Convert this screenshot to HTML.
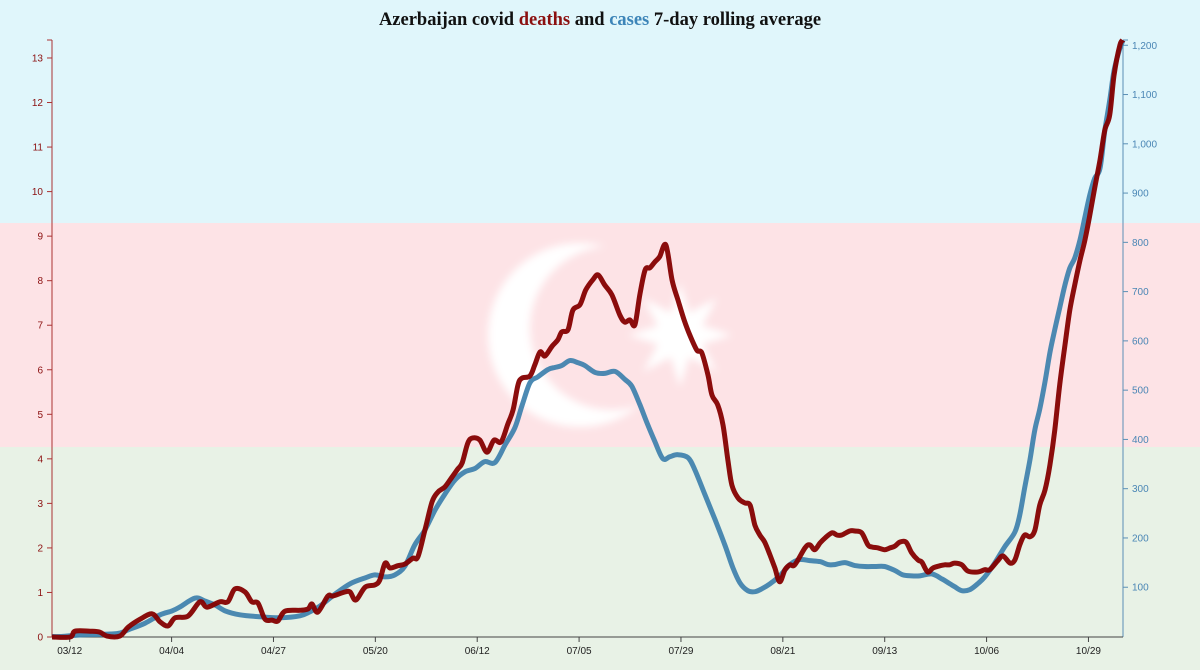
<!DOCTYPE html>
<html><head><meta charset="utf-8"><style>
html,body{margin:0;padding:0;width:1200px;height:670px;overflow:hidden;background:#e8f2e6}
svg{display:block}
text{font-family:"Liberation Sans",sans-serif}
</style></head><body>
<svg id="chart" width="1200" height="670" xmlns="http://www.w3.org/2000/svg">
<defs>
<filter id="blur" x="-20%" y="-20%" width="140%" height="140%"><feGaussianBlur stdDeviation="4"/></filter>
<mask id="cres"><rect width="1200" height="670" fill="black"/><circle cx="580" cy="335" r="92" fill="white"/><circle cx="612" cy="328" r="82" fill="black"/></mask>
</defs>
<g>
<rect x="0" y="0" width="1200" height="223" fill="#e0f6fb"/>
<rect x="0" y="223" width="1200" height="224" fill="#fde3e6"/>
<rect x="0" y="447" width="1200" height="223" fill="#e8f2e6"/>
<g filter="url(#blur)">
<rect width="1200" height="670" fill="#ffffff" mask="url(#cres)"/>
<polygon id="star" fill="#ffffff"/>
</g>
</g>
<text x="600" y="25" text-anchor="middle" font-weight="bold" font-size="18.5" fill="#111" style="font-family:'Liberation Serif',serif">Azerbaijan covid <tspan fill="#8b1010">deaths</tspan> and <tspan fill="#3d85b8">cases</tspan> 7-day rolling average</text>
<g id="axes"></g>
<g id="series"></g>
</svg>
<script>
const xTickDays=[4,27,50,73,96,119,142,165,188,211,234];
const xTickLabels=["03/12","04/04","04/27","05/20","06/12","07/05","07/29","08/21","09/13","10/06","10/29"];
const leftTicks=[0,1,2,3,4,5,6,7,8,9,10,11,12,13];
const rightTicks=[100,200,300,400,500,600,700,800,900,1000,1100,1200];
const deathDays=[0,4.1,5.2,8.6,10.8,12.4,15.3,17.2,19.9,22.6,24.4,26.2,27.8,30.7,33.4,35,37.9,39.7,41.3,43.6,45.1,46.5,48.1,49.7,51,52.6,56,57.8,58.7,60,62.3,63.4,66.1,67.3,68.6,70.7,72.9,74,75.2,76.3,78.1,79.7,81.5,82.6,84.2,85.8,87.1,88.7,90.3,91.6,92.6,93.9,95,96.6,98.2,99.8,101.4,102.9,104.1,105.2,106.1,107.9,109,110.2,111.3,112.9,114.2,115.1,116.5,117.6,119.2,120.5,122.1,123.3,124.8,126.4,128.2,129.3,130.5,131.6,132.7,133.9,135,136.1,137.2,138.6,140,141.3,142.7,144,145.6,146.7,148.1,149,150.3,151.5,152.6,153.5,154.9,156.4,157.6,158.7,159.8,160.9,162.1,163.2,164.3,165.5,166.6,167.7,170,171.1,172.2,173.4,174.5,176.1,177.2,178.3,180.1,181.3,182.8,184.2,185.1,186.5,188,189.2,190.3,191.4,192.8,194.1,195.5,196.4,197.7,198.9,200.5,201.6,202.7,203.8,205.4,206.8,209,210.6,211.7,213.5,214.7,216.3,217.4,218.5,219.6,220.8,221.9,223,224.2,225.3,226.4,227.5,228.7,229.8,230.9,232.1,233.2,234.3,235.4,236.6,237.7,238.8,239.8,241.1,241.8];
const deathVals=[0,0,.13,.13,.11,.02,.02,.22,.40,.52,.34,.25,.43,.47,.79,.67,.79,.79,1.08,1.01,.79,.76,.40,.38,.36,.58,.60,.63,.74,.56,.92,.92,1.01,1.01,.83,1.12,1.17,1.28,1.66,1.55,1.60,1.64,1.77,1.80,2.40,3.03,3.25,3.37,3.59,3.77,3.91,4.36,4.47,4.42,4.15,4.42,4.38,4.78,5.10,5.66,5.81,5.86,6.11,6.40,6.31,6.53,6.67,6.85,6.90,7.34,7.46,7.79,8.02,8.13,7.90,7.68,7.23,7.07,7.12,7.01,7.68,8.24,8.29,8.42,8.54,8.80,8.01,7.57,7.12,6.78,6.44,6.38,5.88,5.43,5.21,4.76,3.97,3.41,3.12,3.01,2.96,2.51,2.29,2.13,1.84,1.55,1.24,1.51,1.62,1.62,2.00,2.07,1.96,2.11,2.22,2.34,2.29,2.29,2.38,2.38,2.34,2.07,2.02,2.00,1.96,2.00,2.04,2.13,2.13,1.89,1.73,1.68,1.46,1.55,1.60,1.62,1.62,1.66,1.62,1.48,1.46,1.51,1.51,1.71,1.82,1.66,1.73,2.07,2.29,2.25,2.40,2.96,3.30,3.86,4.65,5.66,6.56,7.34,7.90,8.46,8.91,9.47,10.08,10.71,11.38,11.72,12.62,13.29,13.4];
const caseDays=[0,1.8,6.3,13.1,15.3,17.6,21,24.4,27.1,28.9,32.3,34.5,36.8,39.1,42.4,47,51.5,56,58.2,60.5,63.9,67.3,70.7,72.9,75.2,77.4,79.7,81.9,84.2,86.5,88.7,91,93.2,95.5,97.7,100,102.3,104.5,106.1,107.9,109.7,112,113.5,115.1,116.9,118.7,120.3,122.6,124.8,127.1,129.3,130.9,132.7,134.5,136.1,137.9,139.5,141.3,143.6,145.1,147.4,149.7,151.9,153.7,155.3,157.1,158.7,160.3,162.1,164.3,166.6,168.8,171.1,173.4,175.2,176.7,179,181.3,183.5,185.8,188,190.3,192.1,194.1,195.9,198.6,200.9,202.7,203.8,205.4,207.2,209,210.6,212.9,215.1,217.4,218.5,219.6,220.8,221.9,223,224.2,225.3,226.4,227.5,228.7,229.8,230.9,232.1,233.2,234.3,235.4,236.6,237.7,238.8,239.8,241.1,241.8];
const caseVals=[0,0,3,5,7,15,27,44,52,60,78,72,64,52,44,40,38,42,50,62,86,107,119,125,121,125,143,186,216,257,289,318,334,341,355,353,389,424,468,515,527,542,546,550,560,556,550,536,534,538,522,508,471,430,396,361,365,369,363,339,288,237,186,140,109,93,91,97,107,123,146,156,154,152,146,146,150,144,142,142,142,134,125,123,123,127,117,107,101,93,95,107,121,150,182,212,247,302,359,420,461,517,576,623,667,714,748,768,805,851,896,930,950,1027,1088,1149,1194,1210];

const NS="http://www.w3.org/2000/svg";
const X0=52,X1=1123,DMAX=241.8;
const x=d=>X0+(X1-X0)*d/DMAX;
const yL=v=>637-v*44.54;
const yR=v=>636.5-v*0.4927;
function mk(tag,attrs,parent){const e=document.createElementNS(NS,tag);for(const k in attrs)e.setAttribute(k,attrs[k]);parent.appendChild(e);return e;}
const axes=document.getElementById('axes');
const st=document.getElementById('star');let sp=[];
for(let i=0;i<16;i++){const a=-Math.PI/2+i*Math.PI/8,r=i%2?24:52;sp.push((680+r*Math.cos(a)).toFixed(1)+","+(335+r*Math.sin(a)).toFixed(1));}
st.setAttribute('points',sp.join(' '));
const la=mk('line',{x1:X0,y1:40,x2:X0,y2:637,stroke:'#a33',"stroke-width":1},axes);


const ra=mk('line',{x1:X1,y1:40,x2:X1,y2:637,stroke:'#5a8fb5',"stroke-width":1},axes);


const xa=mk('line',{x1:X0,y1:637,x2:X1,y2:637,stroke:'#444',"stroke-width":1},axes);


mk('line',{x1:X0-5,y1:40,x2:X0,y2:40,stroke:'#a33'},axes);
mk('line',{x1:X1,y1:40,x2:X1+5,y2:40,stroke:'#5a8fb5'},axes);
leftTicks.forEach(v=>{const y=yL(v);
mk('line',{x1:X0-5,y1:y,x2:X0,y2:y,stroke:'#a33'},axes);
const t=mk('text',{x:X0-9,y:y+3.5,"text-anchor":"end","font-size":10,fill:'#8b1010'},axes);t.textContent=v;

});
rightTicks.forEach(v=>{const y=yR(v);
mk('line',{x1:X1,y1:y,x2:X1+5,y2:y,stroke:'#5a8fb5'},axes);
const t=mk('text',{x:X1+9,y:y+3.5,"font-size":10,fill:'#4a86b5'},axes);t.textContent=v.toLocaleString('en-US');

});
xTickDays.forEach((d,i)=>{const xx=x(d);
mk('line',{x1:xx,y1:637,x2:xx,y2:642,stroke:'#444'},axes);
const t=mk('text',{x:xx,y:654,"text-anchor":"middle","font-size":10,fill:'#222'},axes);t.textContent=xTickLabels[i];

});
function pathFrom(ds,vs,ys){const p=ds.map((d,i)=>[x(d),ys(vs[i])]);let s="M"+p[0][0]+","+p[0][1];
for(let i=0;i<p.length-1;i++){const p0=p[i-1]||p[i],p1=p[i],p2=p[i+1],p3=p[i+2]||p2;
const c1=[p1[0]+(p2[0]-p0[0])/6,p1[1]+(p2[1]-p0[1])/6],c2=[p2[0]-(p3[0]-p1[0])/6,p2[1]-(p3[1]-p1[1])/6];
s+=`C${c1[0].toFixed(1)},${c1[1].toFixed(1)} ${c2[0].toFixed(1)},${c2[1].toFixed(1)} ${p2[0].toFixed(1)},${p2[1].toFixed(1)}`;}return s;}
const ser=document.getElementById('series');
const cl=mk('path',{d:pathFrom(caseDays,caseVals,yR),fill:'none',stroke:'#3d80ad',"stroke-width":5,"stroke-opacity":0.92,"stroke-linejoin":"round"},ser);


const dl=mk('path',{d:pathFrom(deathDays,deathVals,yL),fill:'none',stroke:'#850000',"stroke-width":5,"stroke-opacity":0.95,"stroke-linejoin":"round"},ser);


</script>
</body></html>
